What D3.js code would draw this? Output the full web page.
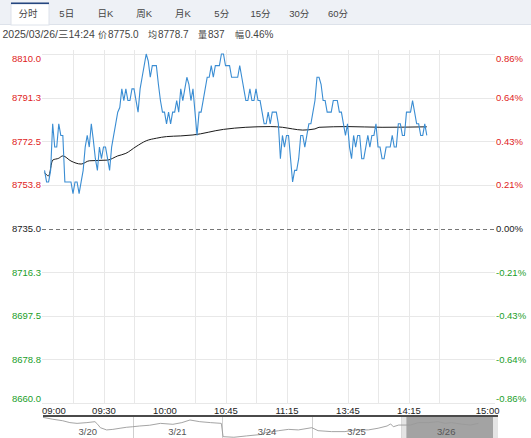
<!DOCTYPE html>
<html><head><meta charset="utf-8">
<script src="https://cdn.jsdelivr.net/npm/d3@7/dist/d3.min.js"></script>
<style>
body{margin:0;background:#fff}
svg{display:block;font-family:"Liberation Sans",Arial,"Noto Sans CJK SC",sans-serif}
</style>
</head><body><svg id="c" width="531" height="438"></svg>
<script>
// ---------- data ----------
const tabs = ["分时","5日","日K","周K","月K","5分","15分","30分","60分"];
const infoParts = ["2025/03/26/三14:24","价","8775.0","均","8778.7","量","837","幅","0.46%"];
const priceTicks = [8810.0, 8791.3, 8772.5, 8753.8, 8735.0, 8716.3, 8697.5, 8678.8, 8660.0];
const pctLabels = ["0.86%","0.64%","0.43%","0.21%","0.00%","-0.21%","-0.43%","-0.64%","-0.86%"];
const prevClose = 8735.0;
const timeTickMinutes = [0, 30, 60, 90, 120, 150, 180, 225];
const timeTickLabels = ["09:00","09:30","10:00","10:45","11:15","13:45","14:15","15:00"];
const gridMinutes = [15, 30, 45, 75, 90, 105, 120, 150, 165, 180, 195];
// one price per trading minute, starting 09:01
const prices = [
8760,8755,8755,8760,8780,8770,8770,8780,8775,8775,
8755,8755,8755,8755,
8750,8755,8755,8750,8755,8760,8770,8775,8770,8780,
8773,8765,8760,8770,8765,8770,8770,8765,8760,8770,
8775,8780,8785,8787,8795,8790,8795,8790,8790,8795,
8795,8790,8785,8795,8800,8805,8810,8807,8800,8805,
8805,8805,8797,8790,8785,8785,8780,8785,
8780,8785,8785,8790,8785,8795,8790,8795,8800,8797,
8790,8795,8785,8775,8785,8785,8790,8795,8800,
8800,
8805,8800,8805,8805,8805,8810,8810,8805,8805,8805,
8800,8800,8800,8800,8805,8800,8795,8790,8790,8795,
8790,8790,8795,8790,8790,8785,8780,8780,8785,8780,
8785,8785,8785,8780,8765,8775,8770,8775,8775,8765,
8755,8760,8760,8765,8775,8775,8770,8775,8780,8780,
8785,8790,8800,8800,8797,8790,8790,
8785,8785,8785,
8790,8790,8790,8785,8785,8780,8775,8780,8770,8765,
8775,8770,8775,8775,8765,8765,8770,8775,8770,8775,
8775,8780,8770,8770,8765,8765,8770,8770,8770,8775,
8770,8770,8780,8780,8775,8775,8785,8785,8785,8790,
8785,8780,8780,8775,8775,8780,8775
];
const avgMinutes = [1,3,5,8,10,14,19,23,32,37,41,46,51,56,61,68,74,89,100,112,118,123,128,134,136,150,167,189];
const avgValues  = [8759,8757.6,8764.4,8765.2,8766.2,8764,8762.7,8764.1,8764.4,8766.2,8767.3,8770.2,8772.7,8773.8,8774.5,8774.8,8775.2,8777.6,8778.5,8778.8,8778.5,8777.8,8777.3,8777.8,8778.5,8778.8,8778.5,8778.7];
const navDays = ["3/20","3/21","3/24","3/25","3/26"];
const navPos = [0,0.11,0.22,0.30,0.38,0.49,0.58,0.61,0.64,0.71,0.78,0.86,0.93,1.0,
  1.08,1.19,1.31,1.45,1.55,1.64,1.75,1.87,1.99,
  2.01,2.13,2.27,2.46,2.48,2.63,2.74,2.85,3.0,
  3.07,3.22,3.37,3.48,3.63,3.74,3.84,3.88,3.91,3.97,
  4.10,4.19,4.30,4.41,4.49,4.56,4.67,4.77,4.86];
const navValues = [8810,8800,8792,8782,8778,8782,8787,8773,8755,8743,8746,8752,8757,8760,
  8764,8768,8778,8773,8782,8796,8787,8782,8778,
  8707,8704,8711,8720,8728,8739,8746,8743,8755,
  8739,8734,8734,8743,8743,8752,8764,8775,8760,8769,
  8769,8782,8782,8787,8778,8782,8774,8769,8778];

// ---------- drawing ----------
const svg = d3.select("#c");
const W = 531;
const red = "#e0231c", green = "#1a9e28", dark = "#222";

// tab bar
svg.append("rect").attr("x",0).attr("y",0).attr("width",W).attr("height",24).attr("fill","#eef1f6");
svg.append("line").attr("x1",0).attr("x2",W).attr("y1",24.5).attr("y2",24.5).attr("stroke","#dde2ea");
svg.append("rect").attr("x",11).attr("y",3).attr("width",38).attr("height",22).attr("fill","#fff").attr("stroke","#dde2ea");
svg.append("rect").attr("x",11).attr("y",2.5).attr("width",38).attr("height",1.6).attr("fill","#24467f");
const tabX = d3.scalePoint().domain(tabs).range([28, 338]);
svg.append("g").selectAll("text").data(tabs).join("text")
  .attr("x", d => tabX(d)).attr("y", 17).attr("text-anchor","middle")
  .attr("font-size", 9.5).attr("fill","#444").text(d => d);

// info line
const infoX = [2.5, 98, 108, 148, 158, 198, 208, 235, 245];
const infoSize = [10.5, 9, 10, 9, 10, 9, 10, 9, 10];
svg.append("g").selectAll("text").data(infoParts).join("text")
  .attr("x",(d,i)=>infoX[i]).attr("y",37.5).attr("font-size",(d,i)=>infoSize[i]).attr("fill","#444").text(d=>d);

// scales
const x = d3.scaleLinear().domain([0,225]).range([42.5,500]);
const y = d3.scaleLinear().domain([8660,8810]).range([403,54]);

// vertical grid
svg.append("g").selectAll("line").data(gridMinutes).join("line")
  .attr("x1",d=>Math.round(x(d))+0.5).attr("x2",d=>Math.round(x(d))+0.5)
  .attr("y1",50).attr("y2",403).attr("stroke","#e8e8e8");
// horizontal grid
svg.append("g").selectAll("line").data(priceTicks).join("line")
  .attr("x1",42).attr("x2",495)
  .attr("y1",d=>Math.round(y(d))+0.5).attr("y2",d=>Math.round(y(d))+0.5)
  .attr("stroke",d=> d===prevClose ? "#777" : "#e8e8e8")
  .attr("stroke-dasharray",d=> d===prevClose ? "4,3" : null);

function colorOf(d){ return d>prevClose ? red : (d<prevClose ? green : dark); }
function nudge(d){ return d===8810 ? 4 : (d===8660 ? -5 : 0); }

// left axis
const gl = svg.append("g").attr("transform","translate(41,0)")
  .call(d3.axisLeft(y).tickValues(priceTicks).tickSize(0).tickPadding(0).tickFormat(d3.format(".1f")));
gl.select(".domain").remove();
gl.selectAll("text").attr("font-size",9.5).attr("font-family",null)
  .attr("fill",d=>colorOf(d)).attr("transform",d=>`translate(0,${nudge(d)})`);

// right axis
const gr = svg.append("g").attr("transform","translate(496,0)")
  .call(d3.axisRight(y).tickValues(priceTicks).tickSize(0).tickPadding(0).tickFormat((d,i)=>pctLabels[i]));
gr.select(".domain").remove();
gr.selectAll("text").attr("font-size",9.5).attr("font-family",null)
  .attr("fill",d=>colorOf(d)).attr("transform",d=>`translate(0,${nudge(d)})`);

// time axis
const gt = svg.append("g").attr("transform","translate(0,403)")
  .call(d3.axisBottom(x).tickValues(timeTickMinutes).tickSize(0).tickPadding(4).tickFormat((d,i)=>timeTickLabels[i]));
gt.select(".domain").remove();
gt.selectAll("text").attr("font-size",9.5).attr("font-family",null).attr("fill",dark)
  .attr("text-anchor",d=> d===0 ? "start" : (d===225 ? "end" : "middle"))
  .attr("dx",d=> d===0 ? -1 : (d===225 ? -1 : 0));

// average line
svg.append("path").datum(avgMinutes.map((m,i)=>[m,avgValues[i]]))
  .attr("fill","none").attr("stroke","#1a1a1a").attr("stroke-width",1)
  .attr("d", d3.line().x(d=>x(d[0])).y(d=>y(d[1])).curve(d3.curveMonotoneX));
// price line
svg.append("path").datum(prices.map((p,i)=>[i+1,p]))
  .attr("fill","none").attr("stroke","#3a8dd3").attr("stroke-width",1.1)
  .attr("d", d3.line().x(d=>x(d[0])).y(d=>y(d[1])));

// navigator
const nx = d3.scaleLinear().domain([0,5]).range([43,491]);
const ny = d3.scaleLinear().domain([8700,8817.3]).range([438,416]);
svg.append("rect").attr("x",nx(4)).attr("y",417).attr("width",498-nx(4)).attr("height",21).attr("fill","#a3a3a3");
svg.append("rect").attr("x",nx(4)).attr("y",417).attr("width",5).attr("height",21).attr("fill","#e4e4e4");
svg.append("rect").attr("x",493).attr("y",417).attr("width",5).attr("height",21).attr("fill","#e4e4e4");
svg.append("g").selectAll("line").data([1,2,3]).join("line")
  .attr("x1",d=>Math.round(nx(d))+0.5).attr("x2",d=>Math.round(nx(d))+0.5)
  .attr("y1",417).attr("y2",438).attr("stroke","#cfcfcf");
svg.append("path").datum(navPos.map((p,i)=>[p,navValues[i]]))
  .attr("fill","none").attr("stroke","#9a9a9a").attr("stroke-width",0.9)
  .attr("d", d3.line().x(d=>nx(d[0])).y(d=>ny(d[1])));
svg.append("line").attr("x1",43).attr("x2",498).attr("y1",416).attr("y2",416).attr("stroke","#4a4a4a").attr("stroke-width",2);
svg.append("g").selectAll("text").data(navDays).join("text")
  .attr("x",(d,i)=>nx(i+0.5)).attr("y",435).attr("text-anchor","middle")
  .attr("font-size",9.5).attr("fill","#555").text(d=>d);
</script>
</body></html>
